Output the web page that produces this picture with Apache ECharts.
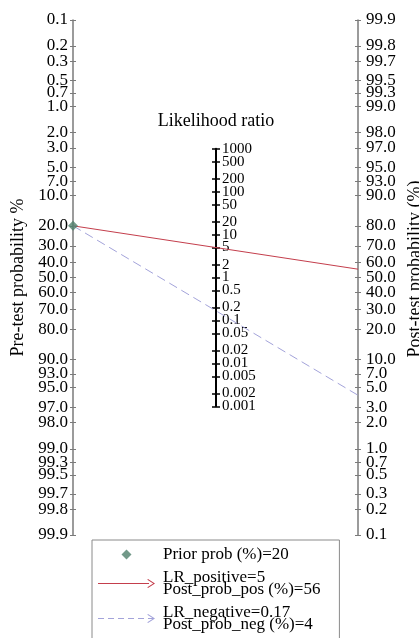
<!DOCTYPE html>
<html><head><meta charset="utf-8">
<script src="https://cdn.jsdelivr.net/npm/echarts@6/dist/echarts.min.js"></script>
<style>html,body{margin:0;padding:0;background:#fff}#c{width:419px;height:638px}</style>
</head><body><div id="c"></div>
<script>
// ---- data ----
const pretestTicks = [0.1,0.2,0.3,0.5,0.7,1,2,3,5,7,10,20,30,40,50,60,70,80,90,93,95,97,98,99,99.3,99.5,99.7,99.8,99.9];
const posttestTicks = [99.9,99.8,99.7,99.5,99.3,99,98,97,95,93,90,80,70,60,50,40,30,20,10,7,5,3,2,1,0.7,0.5,0.3,0.2,0.1];
const lrTicks = [1000,500,200,100,50,20,10,5,2,1,0.5,0.2,0.1,0.05,0.02,0.01,0.005,0.002,0.001];
const lrTickLabels = ['1000','500','200','100','50','20','10','5','2','1','0.5','0.2','0.1','0.05','0.02','0.01','0.005','0.002','0.001'];
const priorProb = [20];
const lrPositive = [5];
const lrNegative = [0.17];
const postProbPos = [56];
const postProbNeg = [4];
const seriesNames = [
  'Prior prob (%)=' + priorProb[0],
  'LR_positive=' + lrPositive[0] + '\nPost_prob_pos (%)=' + postProbPos[0],
  'LR_negative=' + lrNegative[0] + '\nPost_prob_neg (%)=' + postProbNeg[0]
];

// ---- helpers ----
const FONT = 'Liberation Serif';
const logit = p => Math.log(p / (100 - p));
const L = logit(99.9);
const LN1000 = Math.log(1000);
const G = {left: 73, top: 20, right: 61, height: 515};
const midTop = G.top + G.height * (L - LN1000 / 2) / (2 * L);
const midH = G.height * LN1000 / (2 * L);
const key = v => v.toFixed(5);

const leftVals = pretestTicks.map(p => logit(p));
const leftMap = {}; pretestTicks.forEach((p, i) => leftMap[key(leftVals[i])] = p.toFixed(1));
const rightVals = posttestTicks.map(q => -logit(q));
const rightMap = {}; posttestTicks.forEach((q, i) => rightMap[key(rightVals[i])] = q.toFixed(1));
const midVals = lrTicks.map(v => Math.log(v));
const midMap = {}; lrTicks.forEach((v, i) => midMap[key(midVals[i])] = lrTickLabels[i]);
// split labels over two coincident axes so that close neighbours are not auto-hidden
const midValsA = midVals.filter((v, i) => i % 2 === 0);
const midValsB = midVals.filter((v, i) => i % 2 === 1);

const vPrior = logit(priorProb[0]);
const vPos = -(vPrior + Math.log(lrPositive[0]));
const vNeg = -(vPrior + Math.log(lrNegative[0]));

const RED = '#c43e4c';
const LAV = '#a3a3da';
const GREEN = '#4f7f6c';
const AXG = '#7a7a7a';

const chevron = 'path://M0,10 L5,0 L10,10 L8.6,10 L5,2.6 L1.4,10 Z';
const diamondIcon = 'path://M5,0 L10,5 L5,10 L0,5 Z';
const arrowIcon = 'path://M0,4.5 H51 V5.5 H0 Z M50,0.5 L57,5 L50,9.5 L49.3,8.7 L55.2,5 L49.3,1.3 Z';
const dashIcon = 'path://M0,4.5h6v1h-6z M10,4.5h6v1h-6z M20,4.5h6v1h-6z M30,4.5h6v1h-6z M40,4.5h6v1h-6z M50,4.5h5v1h-5z M50,0.5 L57,5 L50,9.5 L49.3,8.7 L55.2,5 L49.3,1.3 Z';

const outerLabel = {fontFamily: FONT, fontSize: 17, color: '#000'};

function outerAxis(position, vals, map, withLabels, inside, name) {
  return {
    type: 'value', gridIndex: 0, position: position, inverse: true,
    min: -L, max: L,
    splitLine: {show: false},
    axisLine: {show: withLabels, lineStyle: {color: AXG, width: 1.5}},
    axisTick: {show: true, inside: inside, length: 3, customValues: vals, lineStyle: {color: AXG, width: 1}},
    axisLabel: withLabels ? Object.assign({
      show: true, customValues: vals, hideOverlap: false,
      showMinLabel: true, showMaxLabel: true,
      margin: position === 'left' ? 5 : 8,
      formatter: v => map[key(v)] || ''
    }, outerLabel) : {show: false},
    name: name || '',
    nameLocation: 'middle', nameRotate: 90, nameGap: 44,
    nameTextStyle: {fontFamily: FONT, fontSize: 18, color: '#000',
      padding: position === 'right' ? [0, 0, 0, 17] : 0}
  };
}

function midAxis(first, inside, labelVals) {
  return {
    type: 'value', gridIndex: 1, position: 'left',
    min: -LN1000, max: LN1000,
    splitLine: {show: false},
    axisLine: {show: first, lineStyle: {color: '#000', width: 2}},
    axisTick: {show: true, inside: inside, length: 4, customValues: midVals, lineStyle: {color: '#000', width: 1.5}},
    axisLabel: {
      show: true, inside: true, customValues: labelVals, hideOverlap: false,
      showMinLabel: true, showMaxLabel: true, margin: 6,
      fontFamily: FONT, fontSize: 15, color: '#000',
      formatter: v => midMap[key(v)] || ''
    },
    name: first ? 'Likelihood ratio' : '',
    nameLocation: 'end', nameGap: 18,
    nameTextStyle: {fontFamily: FONT, fontSize: 18, color: '#000', align: 'center'}
  };
}

function arrowSeries(name, color, type, vEnd) {
  return {
    name: name, type: 'line', xAxisIndex: 0, yAxisIndex: 0,
    data: [[0, vPrior], [1, vEnd]],
    showSymbol: false, symbol: 'none',
    lineStyle: {width: 0, color: color},
    itemStyle: {color: color},
    silent: true, animation: false, z: 3,
    markLine: {
      silent: true, animation: false,
      symbol: ['none', chevron],
      symbolSize: [[8, 8], [8, 8]],
      symbolOffset: [[0, 0], [0, 4]],
      label: {show: false},
      emphasis: {disabled: true},
      lineStyle: {color: color, width: 1, type: type, opacity: 1},
      data: [[{coord: [0, vPrior]}, {coord: [1, vEnd]}]]
    }
  };
}

const chart = echarts.init(document.getElementById('c'), null, {renderer: 'canvas'});
chart.setOption({
  backgroundColor: '#fff',
  animation: false,
  textStyle: {fontFamily: FONT},
  grid: [
    {left: G.left, top: G.top, right: G.right, height: G.height, containLabel: false, outerBoundsMode: 'none'},
    {left: 216, top: midTop, width: 2, height: midH, containLabel: false, outerBoundsMode: 'none'}
  ],
  xAxis: [
    {type: 'value', gridIndex: 0, min: 0, max: 1, show: false},
    {type: 'value', gridIndex: 1, min: 0, max: 1, show: false}
  ],
  yAxis: [
    outerAxis('left', leftVals, leftMap, true, false, 'Pre-test probability %'),
    outerAxis('right', rightVals, rightMap, true, false, 'Post-test probability (%)'),
    outerAxis('left', leftVals, leftMap, false, true),
    outerAxis('right', rightVals, rightMap, false, true),
    midAxis(true, false, midValsA),
    midAxis(false, true, midValsB)
  ],
  legend: {
    orient: 'vertical', left: 92, top: 540, height: 200,
    padding: [6, 19, 10, 6], itemGap: 6, itemWidth: 57, itemHeight: 10,
    borderColor: '#8a8a8a', borderWidth: 1, backgroundColor: '#fff',
    selectedMode: false,
    textStyle: {fontFamily: FONT, fontSize: 17, lineHeight: 12, color: '#000', padding: [0, 0, 0, 3]},
    data: [
      {name: seriesNames[0], icon: diamondIcon, itemStyle: {color: GREEN, borderWidth: 0}},
      {name: seriesNames[1], icon: arrowIcon, itemStyle: {color: RED, borderWidth: 0}},
      {name: seriesNames[2], icon: dashIcon, itemStyle: {color: LAV, borderWidth: 0}}
    ]
  },
  series: [
    arrowSeries(seriesNames[1], RED, 'solid', vPos),
    arrowSeries(seriesNames[2], LAV, [9, 5], vNeg),
    {
      name: seriesNames[0], type: 'scatter', xAxisIndex: 0, yAxisIndex: 0,
      data: [[0, vPrior]], symbol: 'diamond', symbolSize: 10, clip: false,
      itemStyle: {color: GREEN}, silent: true, z: 5
    }
  ]
});
</script></body></html>
